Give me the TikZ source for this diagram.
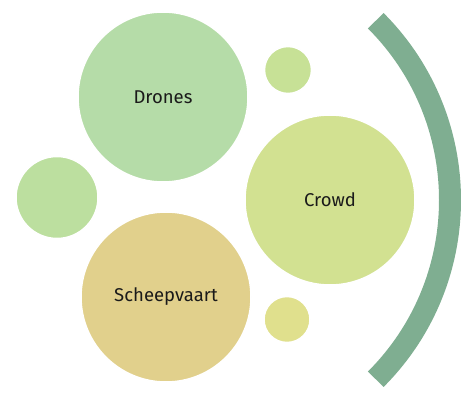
\documentclass[tikz,border=0pt]{standalone}
\usepackage{fontspec}
\setmainfont{Fira Sans}
\definecolor{cDrones}{HTML}{B5DCA8}
\definecolor{cCrowd}{HTML}{D2E191}
\definecolor{cSchip}{HTML}{E1D08C}
\definecolor{cLeft}{HTML}{BCDF9F}
\definecolor{cTop}{HTML}{C7E196}
\definecolor{cBot}{HTML}{E0E08D}
\definecolor{cArc}{HTML}{7FAE91}
\definecolor{cText}{HTML}{1A1A1A}
\begin{document}
\begin{tikzpicture}[x=1pt,y=-1pt,
  bubble/.style={circle,draw=white,line width=1.5pt,inner sep=0pt,
    font=\fontsize{18.5}{20}\selectfont,text=cText},
  arcband/.style={draw=cArc,line width=22pt,line cap=butt}]
\useasboundingbox (0,0) rectangle (461,398);
\node[bubble,fill=cDrones,minimum size=170pt] (drones) at (163,97) {Drones};
\node[bubble,fill=cTop,minimum size=47pt] (top) at (288,70) {};
\node[bubble,fill=cCrowd,minimum size=170pt] (crowd) at (330,200) {Crowd};
\node[bubble,fill=cLeft,minimum size=82pt] (left) at (57,197.5) {};
\node[bubble,fill=cSchip,minimum size=170pt] (schip) at (166,297) {Scheepvaart};
\node[bubble,fill=cBot,minimum size=46pt] (bot) at (287,319.5) {};
\coordinate (ac) at (196.5,200);
\draw[arcband] (ac) ++(-45:253.5) arc (-45:45:253.5);
\end{tikzpicture}
\end{document}
